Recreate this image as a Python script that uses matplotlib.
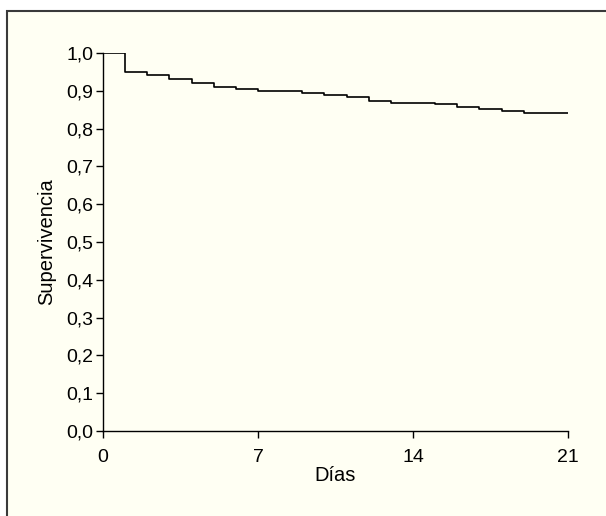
import matplotlib
matplotlib.use("Agg")
import matplotlib.pyplot as plt
from matplotlib.patches import Rectangle

# Kaplan-Meier survival estimate (step after each day)
days = [0, 1, 2, 3, 4, 5, 6, 7, 9, 10, 11, 12, 13, 15, 16, 17, 18, 19, 21]
survival = [1.0, 0.950, 0.941, 0.932, 0.921, 0.911, 0.904, 0.899, 0.893,
            0.888, 0.884, 0.872, 0.869, 0.864, 0.856, 0.852, 0.847, 0.842, 0.842]

x_ticks = [0, 7, 14, 21]
y_ticks = [i / 10 for i in range(11)]
y_labels = [f"{v:.1f}".replace(".", ",") for v in y_ticks]

plt.rcParams['font.family'] = ['Liberation Sans', 'DejaVu Sans']

fig = plt.figure(figsize=(6.06, 5.16), dpi=100)
fig.patch.set_facecolor('white')

frame = Rectangle((6.5 / 606, -0.05), 1.0, 1.05 - 10.5 / 516,
                  transform=fig.transFigure, facecolor='#fffff3',
                  edgecolor='#3a3a3a', linewidth=1.5, zorder=-1)
fig.patches.append(frame)

ax = fig.add_axes([103 / 606, 85 / 516, 465 / 606, 378 / 516])
ax.set_facecolor('none')

ax.step(days, survival, where='post', color='black', linewidth=1.2)

ax.set_xlim(0, 21)
ax.set_ylim(0, 1)
ax.set_xticks(x_ticks)
ax.set_yticks(y_ticks)
ax.set_yticklabels(y_labels)

for side in ['top', 'right']:
    ax.spines[side].set_visible(False)
for side in ['left', 'bottom']:
    ax.spines[side].set_linewidth(1.0)
ax.tick_params(direction='out', length=5, width=1.0, labelsize=14, pad=2)
ax.tick_params(axis='x', pad=8)

ax.set_xlabel("Días", fontsize=14.5, labelpad=0)
ax.set_ylabel("Supervivencia", fontsize=14.5, labelpad=7)

fig.savefig("out.png", dpi=100)
